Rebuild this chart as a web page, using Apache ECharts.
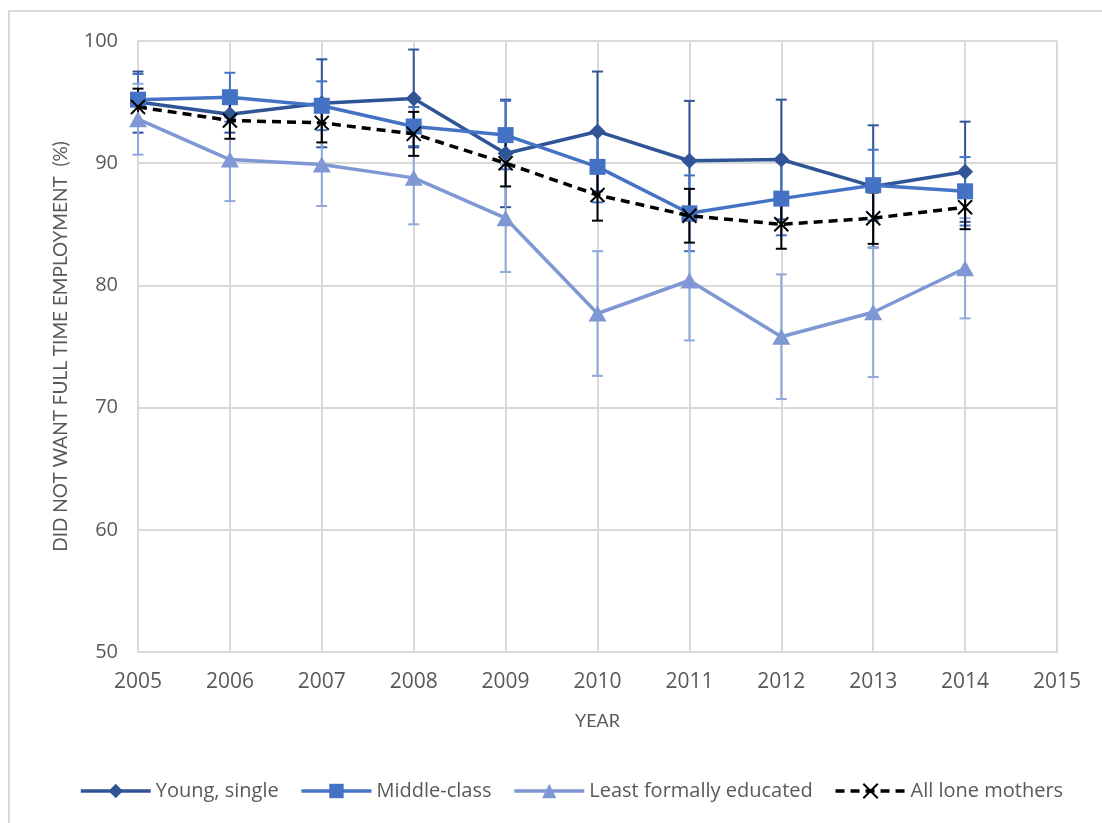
<!DOCTYPE html>
<html>
<head>
<meta charset="utf-8">
<script src="https://cdn.jsdelivr.net/npm/echarts@6/dist/echarts.min.js"></script>
<style>html,body{margin:0;padding:0;background:#fff;}#c{width:1102px;height:823px;}</style>
</head>
<body>
<div id="c"></div>
<script>
const years = [2005, 2006, 2007, 2008, 2009, 2010, 2011, 2012, 2013, 2014];
const youngSingle = [95.0, 94.0, 94.9, 95.3, 90.8, 92.6, 90.2, 90.3, 88.1, 89.3];
const youngSingleErr = [2.5, 1.5, 3.6, 4.0, 4.4, 4.9, 4.9, 4.9, 5.0, 4.1];
const middleClass = [95.2, 95.4, 94.7, 93.0, 92.3, 89.7, 85.9, 87.1, 88.2, 87.7];
const middleClassErr = [2.1, 2.0, 2.0, 1.6, 2.8, 2.9, 3.1, 3.0, 2.9, 2.8];
const leastEducated = [93.6, 90.3, 89.9, 88.8, 85.5, 77.7, 80.4, 75.8, 77.8, 81.4];
const leastEducatedErr = [2.9, 3.4, 3.4, 3.8, 4.4, 5.1, 4.9, 5.1, 5.3, 4.1];
const allLoneMothers = [94.6, 93.5, 93.3, 92.4, 90.0, 87.4, 85.7, 85.0, 85.5, 86.4];
const allLoneMothersErr = [1.5, 1.5, 1.6, 1.8, 1.9, 2.1, 2.2, 2.0, 2.1, 1.8];
const seriesNames = ['Young, single', 'Middle-class', 'Least formally educated', 'All lone mothers'];
const yTicks = [50, 60, 70, 80, 90, 100];
const xTicks = [2005, 2006, 2007, 2008, 2009, 2010, 2011, 2012, 2013, 2014, 2015];

const FONT = 'Lato';
const LFONT = 'Open Sans';
const TXT = '#595959';

function pts(vals) { return years.map((y, i) => [y, vals[i]]); }
function errData(vals, errs) { return years.map((y, i) => [y, vals[i] - errs[i], vals[i] + errs[i]]); }

function errSeries(vals, errs, color, z) {
  return {
    type: 'custom',
    silent: true,
    z: z,
    data: errData(vals, errs),
    encode: { x: 0, y: [1, 2] },
    renderItem: function (params, api) {
      const lo = api.coord([api.value(0), api.value(1)]);
      const hi = api.coord([api.value(0), api.value(2)]);
      const hw = 5.5;
      const st = { stroke: color, lineWidth: 2 };
      return {
        type: 'group',
        children: [
          { type: 'line', shape: { x1: lo[0], y1: lo[1], x2: hi[0], y2: hi[1] }, style: st },
          { type: 'line', shape: { x1: lo[0] - hw, y1: lo[1], x2: lo[0] + hw, y2: lo[1] }, style: st },
          { type: 'line', shape: { x1: hi[0] - hw, y1: hi[1], x2: hi[0] + hw, y2: hi[1] }, style: st }
        ]
      };
    }
  };
}

const cDark = '#2F5597', cMid = '#4472C4', cLight = '#7F98D4', cLightErr = '#8EA9DB';

const chart = echarts.init(document.getElementById('c'), null, { renderer: 'canvas' });
chart.setOption({
  animation: false,
  backgroundColor: '#fff',
  textStyle: { fontFamily: FONT },
  graphic: [{
    type: 'rect', silent: true, z: -10,
    shape: { x: 9, y: 11, width: 1200, height: 900 },
    style: { fill: 'none', stroke: '#D9D9D9', lineWidth: 2 }
  }],
  grid: { left: 138, right: 45, top: 41, bottom: 171, containLabel: false },
  xAxis: {
    type: 'value', min: 2005, max: 2015, interval: 1,
    name: 'YEAR', nameLocation: 'middle', nameGap: 60,
    nameTextStyle: { color: TXT, fontSize: 18, fontFamily: FONT },
    axisLine: { show: true, lineStyle: { color: '#D9D9D9', width: 2 } },
    axisTick: { show: false },
    splitLine: { show: true, lineStyle: { color: '#D9D9D9', width: 2 } },
    axisLabel: { color: TXT, fontSize: 21, fontFamily: LFONT, margin: 20, formatter: v => String(v) }
  },
  yAxis: {
    type: 'value', min: 50, max: 100, interval: 10,
    name: 'DID NOT WANT FULL TIME EMPLOYMENT  (%)', nameLocation: 'middle', nameGap: 68, nameRotate: 90,
    nameTextStyle: { color: TXT, fontSize: 19, fontFamily: FONT },
    axisLine: { show: true, lineStyle: { color: '#D9D9D9', width: 2 } },
    axisTick: { show: false },
    splitLine: { show: true, lineStyle: { color: '#D9D9D9', width: 2 } },
    axisLabel: { color: TXT, fontSize: 20, fontFamily: LFONT, margin: 20 }
  },
  legend: {
    data: seriesNames,
    top: 776, left: 74,
    itemWidth: 70, itemHeight: 18, itemGap: 21,
    lineStyle: { width: 3.5 },
    textStyle: { color: TXT, fontSize: 20, fontFamily: LFONT }
  },
  series: [
    errSeries(youngSingle, youngSingleErr, cDark, 1),
    errSeries(middleClass, middleClassErr, cMid, 1),
    errSeries(leastEducated, leastEducatedErr, cLightErr, 1),
    errSeries(allLoneMothers, allLoneMothersErr, '#000', 1),
    {
      name: seriesNames[0], type: 'line', z: 3, data: pts(youngSingle),
      symbol: 'diamond', symbolSize: [16, 16],
      lineStyle: { color: cDark, width: 3.5 }, itemStyle: { color: cDark }
    },
    {
      name: seriesNames[1], type: 'line', z: 4, data: pts(middleClass),
      symbol: 'rect', symbolSize: 16,
      lineStyle: { color: cMid, width: 3.5 }, itemStyle: { color: cMid }
    },
    {
      name: seriesNames[2], type: 'line', z: 3, data: pts(leastEducated),
      symbol: 'triangle', symbolSize: [18, 16],
      lineStyle: { color: cLight, width: 3.5 }, itemStyle: { color: cLight }
    },
    {
      name: seriesNames[3], type: 'line', z: 5, data: pts(allLoneMothers),
      symbol: 'path://M0,0L10,10M10,0L0,10', symbolSize: 14,
      lineStyle: { color: '#000', width: 3.5, type: [9, 6] },
      itemStyle: { color: '#000', borderColor: '#000', borderWidth: 2 }
    }
  ]
});
</script>
</body>
</html>
